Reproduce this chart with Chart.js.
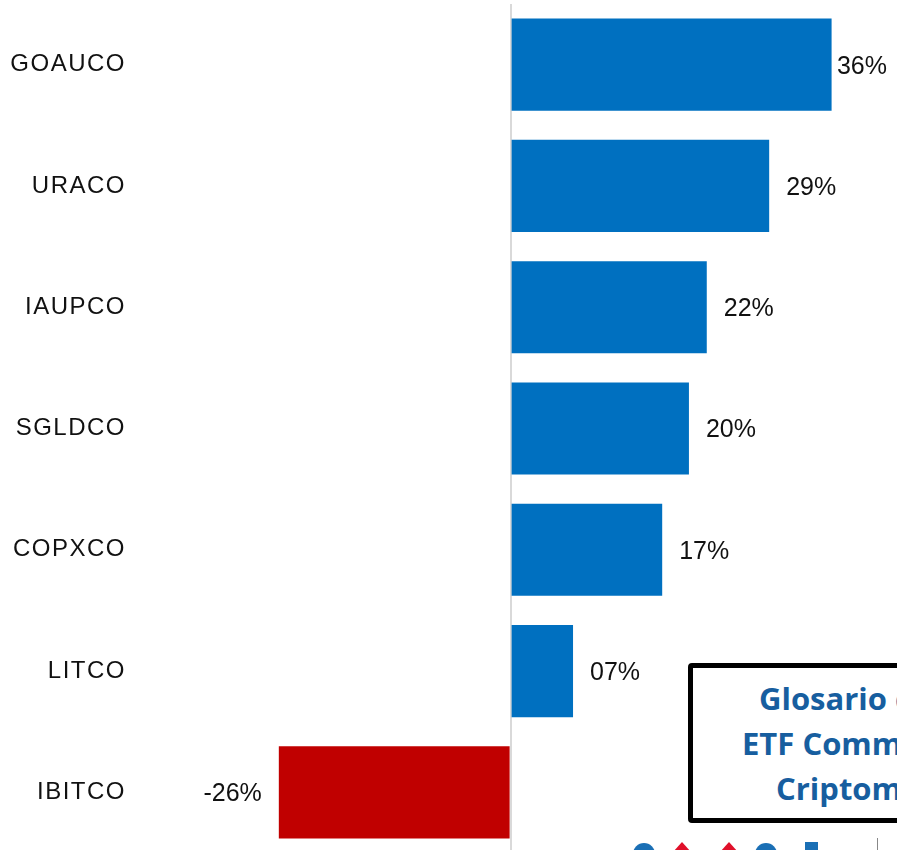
<!DOCTYPE html>
<html>
<head>
<meta charset="utf-8">
<script src="https://cdn.jsdelivr.net/npm/chart.js@4/dist/chart.umd.min.js"></script>
<style>
  html, body { margin: 0; padding: 0; background: #fff; overflow: hidden; }
  #wrap { position: relative; width: 897px; height: 850px; overflow: hidden; }
  #chart-box { position: absolute; left: 0; top: 0; width: 897px; height: 854px; }
  .glos { position: absolute; left: 688px; top: 663px; width: 320px; height: 150px;
          border: 5px solid #000; border-radius: 4px; background: #fff; box-sizing: content-box; }
  .glos-line { position: absolute; font-family: "Open Sans", sans-serif; font-weight: bold;
               font-size: 31px; color: #175e9f; white-space: nowrap; line-height: 1; }
  .logo { position: absolute; }
</style>
</head>
<body>
<div id="wrap">
  <div id="chart-box"><canvas id="bars" width="897" height="854"></canvas></div>

  <!-- glossary box overlapping the chart corner -->
  <div class="glos"></div>
  <div class="glos-line" style="left:759px; top:683px;">Glosario de</div>
  <div class="glos-line" style="left:742px; top:728px;">ETF Commodities y</div>
  <div class="glos-line" style="left:776px; top:773px;">Criptomonedas</div>

  <!-- logo fragments at the bottom edge -->
  <div class="logo" style="left:633px; top:843px; width:22px; height:22px; border-radius:11px; background:#1a6fb5;"></div>
  <div class="logo" style="left:673px; top:842px; width:0; height:0; border-left:9px solid transparent; border-right:9px solid transparent; border-bottom:10px solid #e0102a;"></div>
  <div class="logo" style="left:720px; top:842px; width:0; height:0; border-left:9px solid transparent; border-right:9px solid transparent; border-bottom:10px solid #e0102a;"></div>
  <div class="logo" style="left:755px; top:843px; width:22px; height:22px; border-radius:11px; background:#1a6fb5;"></div>
  <div class="logo" style="left:805px; top:842px; width:13px; height:10px; background:#1a6fb5;"></div>
  <div class="logo" style="left:877px; top:838px; width:1px; height:12px; background:#888;"></div>
</div>

<script>
// Data
const categories = ['GOAUCO', 'URACO', 'IAUPCO', 'SGLDCO', 'COPXCO', 'LITCO', 'IBITCO'];
const returns = [36, 29, 22, 20, 17, 7, -26];
const valueLabels = ['36%', '29%', '22%', '20%', '17%', '07%', '-26%'];

const BLUE = '#0070C0';
const RED = '#C00000';

// Draws the percentage next to each bar end
const valueLabelPlugin = {
  id: 'valueLabels',
  beforeDraw(chart) {
    // category labels in the reference are a little spaced out
    chart.ctx.letterSpacing = '1.5px';
  },
  beforeDatasetsDraw(chart) {
    chart.ctx.letterSpacing = '0px';
  },
  afterDatasetsDraw(chart) {
    const ctx = chart.ctx;
    const meta = chart.getDatasetMeta(0);
    ctx.save();
    ctx.letterSpacing = '0px';
    ctx.font = '25px "Liberation Sans", Arial, sans-serif';
    ctx.fillStyle = '#111';
    ctx.textBaseline = 'middle';
    ctx.textAlign = 'left';
    meta.data.forEach((bar, i) => {
      const text = valueLabels[i];
      const w = ctx.measureText(text).width;
      let x;
      if (returns[i] >= 0) {
        x = bar.x + 17;
        if (x + w > 887) x = 887 - w; // keep inside the page
      } else {
        x = bar.x - 17 - w;
      }
      ctx.fillText(text, x, bar.y + 2);
    });
    ctx.restore();
  }
};

new Chart(document.getElementById('bars'), {
  type: 'bar',
  data: {
    labels: categories,
    datasets: [{
      data: returns,
      backgroundColor: returns.map(v => v < 0 ? RED : BLUE),
      borderWidth: 0,
      categoryPercentage: 1,
      barPercentage: 0.76
    }]
  },
  options: {
    indexAxis: 'y',
    responsive: false,
    animation: false,
    layout: { padding: { top: 4, bottom: 1, left: 0, right: 3 } },
    plugins: {
      legend: { display: false },
      tooltip: { enabled: false }
    },
    scales: {
      x: {
        min: -40,
        max: 43,
        ticks: { display: false },
        border: { display: false },
        grid: {
          drawTicks: false,
          lineWidth: 2,
          color: ctx => ctx.tick && ctx.tick.value === 0 ? '#d9d9d9' : 'rgba(0,0,0,0)'
        },
        afterFit(scale) { scale.height = 0; }
      },
      y: {
        border: { display: false },
        grid: { display: false, drawTicks: false },
        ticks: {
          padding: 28,
          color: '#111',
          font: { family: '"Liberation Sans", Arial, sans-serif', size: 24 }
        },
        afterFit(scale) {
          scale.width = 154;
          // labels sit inside the bands, no extra room needed above/below
          scale.paddingTop = 0;
          scale.paddingBottom = 0;
        }
      }
    }
  },
  plugins: [valueLabelPlugin]
});
</script>
</body>
</html>
